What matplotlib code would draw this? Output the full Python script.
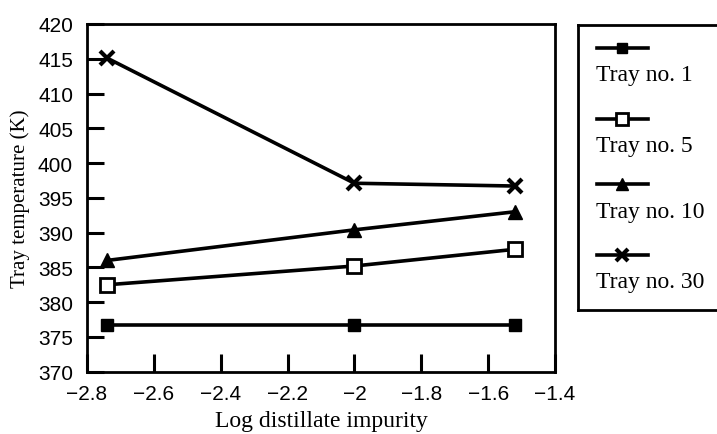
import matplotlib
matplotlib.use("Agg")
import matplotlib.pyplot as plt

plt.rcParams['font.family'] = ['Liberation Serif', 'DejaVu Serif']
plt.rcParams['axes.unicode_minus'] = True

log_impurity = [-2.74, -2.0, -1.52]
tray1 = [376.7, 376.7, 376.7]
tray5 = [382.5, 385.2, 387.6]
tray10 = [386.0, 390.4, 393.0]
tray30 = [415.1, 397.1, 396.7]
labels = ["Tray no. 1", "Tray no. 5", "Tray no. 10", "Tray no. 30"]
xticks = [-2.8, -2.6, -2.4, -2.2, -2.0, -1.8, -1.6, -1.4]
yticks = [370, 375, 380, 385, 390, 395, 400, 405, 410, 415, 420]

styles = [
    dict(marker='s', mfc='black', mec='black', ms=9),
    dict(marker='s', mfc='white', mec='black', ms=10, mew=2),
    dict(marker='^', mfc='black', mec='black', ms=10),
    dict(marker='x', mfc='black', mec='black', ms=10, mew=3),
]
series = [tray1, tray5, tray10, tray30]

fig = plt.figure(figsize=(7.17, 4.35), dpi=100)
ax = fig.add_axes([87/717, 1-372.7/435, (555-87)/717, (372.7-25)/435])
for ys, st in zip(series, styles):
    ax.plot(log_impurity, ys, color='black', lw=2.6, **st)

ax.set_xlim(-2.8, -1.4)
ax.set_ylim(370, 420)
ax.set_xticks(xticks)
ax.set_yticks(yticks)
ax.set_xticklabels([f"{v:g}".replace('-', '\u2212') for v in xticks])
for lab in ax.get_xticklabels() + ax.get_yticklabels():
    lab.set_family(['Liberation Sans', 'DejaVu Sans'])
ax.tick_params(direction='in', length=12, width=2.2, labelsize=15)
ax.tick_params(axis='y', pad=10)
ax.tick_params(axis='x', length=13, pad=9)
for s in ax.spines.values():
    s.set_linewidth(2)
ax.set_xlabel("Log distillate impurity", fontsize=17, labelpad=5)
ax.set_ylabel("Tray temperature (K)", fontsize=15, labelpad=6)

# legend box (handles above labels)
lx0, lx1 = 578, 578 + 0.3*717
ly0, ly1 = 26, 311
lax = fig.add_axes([lx0/717, 1-ly1/435, 0.3, (ly1-ly0)/435])
lax.set_xlim(lx0, lx1)
lax.set_ylim(ly1, ly0)
lax.set_xticks([]); lax.set_yticks([])
for s in lax.spines.values():
    s.set_linewidth(2)
hy = [49, 120, 185, 256]
ty = [76, 147, 213, 283]
for lab, st, h, t in zip(labels, styles, hy, ty):
    st2 = dict(st)
    st2['ms'] = st2['ms'] * 0.85
    lax.plot([597, 648], [h, h], color='black', lw=2.6)
    lax.plot([622], [h], color='black', **st2)
    lax.text(596, t, lab, fontsize=17, va='center', ha='left')

fig.savefig("out.png", dpi=100)
